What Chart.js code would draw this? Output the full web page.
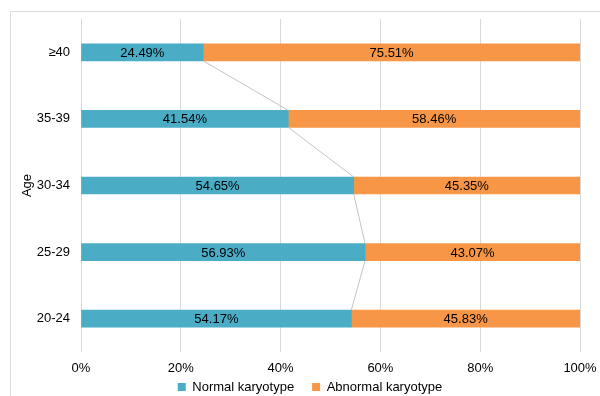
<!DOCTYPE html>
<html>
<head>
<meta charset="utf-8">
<script src="https://cdn.jsdelivr.net/npm/chart.js@4"></script>
<style>
  body { margin: 0; background: #fff; }
  #wrap { width: 600px; height: 396px; position: relative; }
</style>
</head>
<body>
<div id="wrap"><canvas id="ageChart"></canvas></div>
<script>
// Data
const ageGroups = ['≥40', '35-39', '30-34', '25-29', '20-24'];
const normalKaryotype = [24.49, 41.54, 54.65, 56.93, 54.17];
const abnormalKaryotype = [75.51, 58.46, 45.35, 43.07, 45.83];
const xTicks = [0, 20, 40, 60, 80, 100];

const FONT = '"Liberation Sans", Arial, sans-serif';
const FSIZE = 13;

// light frame of the chart box (only top and left edges show)
const frame = {
    id: 'frame',
    beforeDraw(chart) {
        const ctx = chart.ctx;
        ctx.save();
        ctx.strokeStyle = '#d9d9d9';
        ctx.lineWidth = 1;
        ctx.beginPath();
        ctx.moveTo(10.5, chart.height);
        ctx.lineTo(10.5, 11.5);
        ctx.lineTo(chart.width, 11.5);
        ctx.stroke();
        ctx.restore();
    }
};

// keep the legend strip short, and sit it a bit right of centre like the original
const legendPlace = {
    id: 'legendPlace',
    afterInit(chart) {
        const lg = chart.legend;
        const fit = lg.fit;
        lg.fit = function () {
            fit.call(this);
            this.height = 22;
        };
    },
    afterLayout(chart) {
        const lg = chart.legend;
        lg.top -= 11.5;
        lg.left += 20;
        lg.right += 20;
    }
};

// Series lines joining the ends of the blue bars
const seriesLines = {
    id: 'seriesLines',
    afterDatasetsDraw(chart) {
        const meta = chart.getDatasetMeta(0);
        const ctx = chart.ctx;
        ctx.save();
        ctx.strokeStyle = '#c4c4c4';
        ctx.lineWidth = 1;
        for (let i = 0; i < meta.data.length - 1; i++) {
            const a = meta.data[i], b = meta.data[i + 1];
            ctx.beginPath();
            ctx.moveTo(a.x, a.y + a.height / 2);
            ctx.lineTo(b.x, b.y - b.height / 2);
            ctx.stroke();
        }
        ctx.restore();
    }
};

const valueLabels = {
    id: 'valueLabels',
    afterDatasetsDraw(chart) {
        const ctx = chart.ctx;
        ctx.save();
        ctx.font = FSIZE + 'px ' + FONT;
        ctx.fillStyle = '#000';
        ctx.textAlign = 'center';
        ctx.textBaseline = 'middle';
        chart.data.datasets.forEach((ds, di) => {
            chart.getDatasetMeta(di).data.forEach((bar, i) => {
                const left = Math.min(bar.x, bar.base), right = Math.max(bar.x, bar.base);
                ctx.fillText(ds.data[i].toFixed(2) + '%', (left + right) / 2, bar.y + 1);
            });
        });
        ctx.restore();
    }
};

new Chart(document.getElementById('ageChart'), {
    type: 'bar',
    data: {
        labels: ageGroups,
        datasets: [{
            label: 'Normal karyotype',
            data: normalKaryotype,
            backgroundColor: '#4bacc6',
            barThickness: 17,
        }, {
            label: 'Abnormal karyotype',
            data: abnormalKaryotype,
            backgroundColor: '#f79646',
            barThickness: 17,
        }],
    },
    options: {
        indexAxis: 'y',
        responsive: true,
        maintainAspectRatio: false,
        animation: false,
        layout: { padding: { top: 19, right: 20, left: 0, bottom: 0 } },
        scales: {
            x: {
                stacked: true,
                min: 0,
                max: 100,
                afterBuildTicks(scale) {
                    scale.ticks = xTicks.map(v => ({ value: v }));
                },
                afterFit(scale) {
                    scale.height = 22;
                    scale.paddingLeft = 0;
                    scale.paddingRight = 0;
                },
                ticks: {
                    callback: v => v + '%',
                    color: '#000',
                    font: { size: FSIZE, family: FONT },
                    padding: 9,
                },
                grid: { color: '#d9d9d9', drawTicks: false },
                border: { display: false },
            },
            y: {
                stacked: true,
                afterFit(scale) { scale.width = 81; },
                ticks: {
                    color: '#000',
                    font: { size: FSIZE, family: FONT },
                    padding: 3,
                },
                grid: { display: false },
                border: { display: false },
                title: {
                    display: true,
                    text: 'Age',
                    color: '#000',
                    font: { size: FSIZE, family: FONT },
                    padding: { top: 20, bottom: 0 },
                },
            },
        },
        plugins: {
            legend: {
                position: 'bottom',
                labels: {
                    boxWidth: 8,
                    boxHeight: 8,
                    color: '#000',
                    font: { size: FSIZE, family: FONT },
                    padding: 18,
                },
            },
            tooltip: { enabled: false },
        },
    },
    plugins: [frame, legendPlace, seriesLines, valueLabels],
});
</script>
</body>
</html>
